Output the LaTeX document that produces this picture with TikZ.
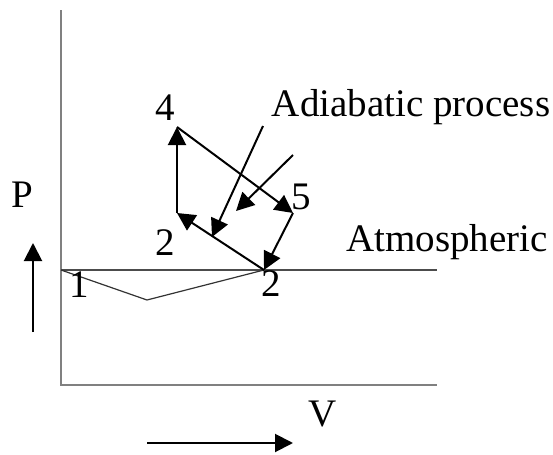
\documentclass[tikz,border=0pt]{standalone}
\usepackage{fontspec}
\setmainfont{Liberation Serif}
\usetikzlibrary{arrows.meta}

\tikzset{
  axisline/.style={draw=black!50, line width=1.3pt},
  atmline/.style={draw=black!70, line width=1pt},
  thinline/.style={draw=black!80, line width=0.6pt},
  flow/.style={draw=black, line width=1pt, -{Triangle[length=9pt,width=9pt]}},
  lbl/.style={font=\fontsize{19.5}{23}\selectfont, inner sep=0pt}
}

\begin{document}
\begin{tikzpicture}[x=0.5pt, y=-0.5pt]
    \useasboundingbox (0,0) rectangle (553,455);
    % axes
    \coordinate (origin) at (61,385);
    \coordinate (ytop) at (61,10);
    \coordinate (xend) at (437,385);
    \draw[axisline] (ytop) -- (origin) -- (xend);

    % cycle points
    \coordinate (p1) at (61,270);
    \coordinate (low) at (147,300);
    \coordinate (p2r) at (264,270);
    \coordinate (p2l) at (177,213);
    \coordinate (p4) at (177,127);
    \coordinate (p5) at (293,213);
    \coordinate (atm) at (437,270);

    % atmospheric line and suction/exhaust
    \draw[atmline] (p1) -- (atm);
    \draw[thinline] (p1) -- (low) -- (p2r);

    % cycle
    \draw[flow] (p2l) -- (p4);
    \draw[flow] (p4) -- (p5);
    \draw[flow] (p5) -- (p2r);
    \draw[flow] (p2r) -- (p2l);

    % adiabatic pointers
    \coordinate (ad1s) at (263,126);
    \coordinate (ad1e) at (212,237);
    \coordinate (ad2s) at (293,155);
    \coordinate (ad2e) at (236,211);
    \draw[flow] (ad1s) -- (ad1e);
    \draw[flow] (ad2s) -- (ad2e);

    % labels
    \node[lbl] (l4) at (165,108) {4};
    \node[lbl] (l5) at (301,197) {5};
    \node[lbl] (l2l) at (165,243) {2};
    \node[lbl] (l2r) at (271,284) {2};
    \node[lbl] (l1) at (79,285) {1};
    \node[lbl] (adia) at (411,107) {Adiabatic process};
    \node[lbl] (atmos) at (447,242) {Atmospheric};
    \node[lbl] (lp) at (22,195) {P};
    \node[lbl] (lv) at (323,414) {V};

    % direction arrows
    \coordinate (pa) at (33,332);
    \coordinate (pb) at (33,243);
    \draw[flow] (pa) -- (pb);
    \coordinate (va) at (147,443);
    \coordinate (vb) at (293,443);
    \draw[flow] (va) -- (vb);
\end{tikzpicture}
\end{document}
